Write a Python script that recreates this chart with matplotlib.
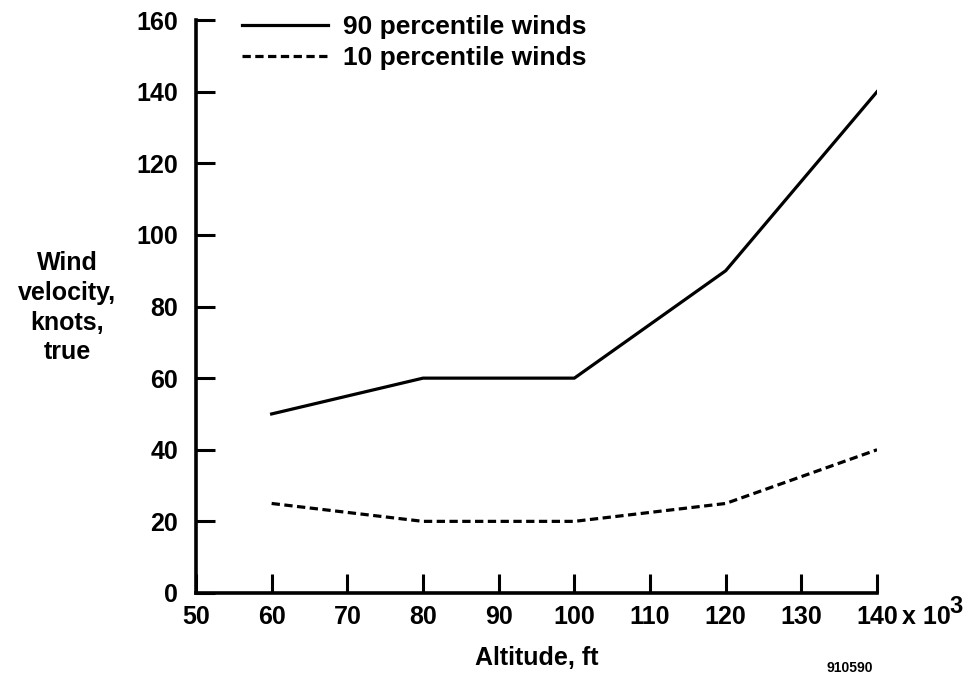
import matplotlib
matplotlib.use('Agg')
import matplotlib.pyplot as plt

plt.rcParams['font.family'] = ['Liberation Sans', 'DejaVu Sans']
plt.rcParams['font.weight'] = 'bold'

altitude = [60, 80, 100, 120, 140]
wind_90 = [50, 60, 60, 90, 140]
wind_10 = [25, 20, 20, 25, 40]
x_ticks = [50, 60, 70, 80, 90, 100, 110, 120, 130, 140]
y_ticks = [0, 20, 40, 60, 80, 100, 120, 140, 160]

fig = plt.figure(figsize=(9.73, 6.78), dpi=100)
ax = fig.add_axes([0.2014, 0.1254, 0.7, 0.845])

ax.plot(altitude, wind_90, color='black', linewidth=2.3, label='90 percentile winds')
ax.plot(altitude, wind_10, color='black', linewidth=2.3, linestyle=(0, (2.6, 1.4)),
        label='10 percentile winds')

ax.set_xlim(50, 140)
ax.set_ylim(0, 160)
ax.set_xticks(x_ticks)
ax.set_yticks(y_ticks)
ax.tick_params(direction='in', length=14, width=2.2, labelsize=18)
ax.tick_params(axis='x', pad=9)
ax.tick_params(axis='y', pad=13)
for lab in ax.get_xticklabels() + ax.get_yticklabels():
    lab.set_fontweight('bold')

for s in ['top', 'right']:
    ax.spines[s].set_visible(False)
for s in ['left', 'bottom']:
    ax.spines[s].set_linewidth(2.6)

# exponent after the last tick label
fig.text(0.927, 0.09, 'x 10', fontsize=18, fontweight='bold', ha='left', va='center')
fig.text(0.976, 0.106, '3', fontsize=17, fontweight='bold', ha='left', va='center')

ax.set_xlabel('Altitude, ft', fontsize=18, fontweight='bold', labelpad=12)
fig.text(0.069, 0.546, 'Wind\nvelocity,\nknots,\ntrue', fontsize=18,
         fontweight='bold', ha='center', va='center', linespacing=1.3)
fig.text(0.873, 0.015, '910590', fontsize=10, fontweight='bold', ha='center', va='center')

leg = ax.legend(loc='upper left', bbox_to_anchor=(0.0675, 1.008), frameon=False,
                fontsize=19, handlelength=3.25, handletextpad=0.57,
                labelspacing=0.25, borderaxespad=0, borderpad=0)
for t in leg.get_texts():
    t.set_fontweight('bold')

fig.savefig('out.png', dpi=100)
